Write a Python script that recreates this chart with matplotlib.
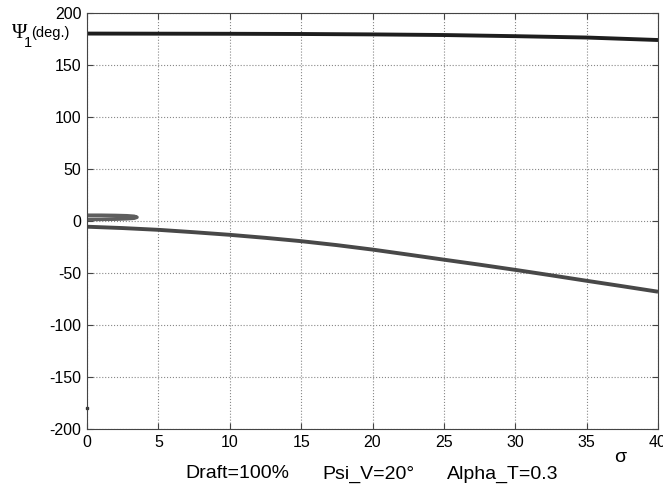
import matplotlib
matplotlib.use("Agg")
import matplotlib.pyplot as plt
import numpy as np

plt.rcParams['font.family'] = ['Liberation Sans', 'DejaVu Sans']
plt.rcParams['axes.unicode_minus'] = False

# upper branch (near 180 deg)
sig_up = [0, 5, 10, 15, 20, 25, 30, 35, 40]
psi_up = [180.2, 180.1, 180, 179.8, 179.4, 178.8, 177.7, 176.4, 174]

# lower branch
sig_lo = [0, 2.5, 5, 7.5, 10, 12.5, 15, 17.5, 20, 22.5, 25, 27.5, 30,
          32.5, 35, 37.5, 40]
psi_lo = [-5.5, -6.8, -8.5, -10.8, -13.3, -16.2, -19.4, -23.2, -27.5,
          -32.3, -37.2, -42, -47, -52.2, -57.5, -62.7, -68]

# small loop near sigma = 0
sig_loop = [0, 1, 2, 2.8, 3.3, 3.5, 3.3, 2.8, 2, 1, 0]
psi_loop = [5.5, 5.5, 5.3, 5.0, 4.5, 3.6, 2.7, 2.2, 1.8, 1.6, 1.5]

# isolated point
sig_pt = [0]
psi_pt = [-180]

fig = plt.figure(figsize=(6.63, 4.88), dpi=100)
ax = fig.add_axes([0.1312, 0.1209, 0.8613, 0.8525])

ax.plot(sig_up, psi_up, color='#1e1e1e', lw=2.8, solid_capstyle='butt')
ax.plot(sig_lo, psi_lo, color='#484848', lw=2.8, solid_capstyle='butt')
ax.plot(sig_loop, psi_loop, color='#5e5e5e', lw=2.6, solid_capstyle='butt')
ax.plot(sig_pt, psi_pt, 's', color='#333333', ms=2, clip_on=False)

ax.set_xlim(0, 40)
ax.set_ylim(-200, 200)
ax.set_xticks(np.arange(0, 41, 5))
ax.set_yticks(np.arange(-200, 201, 50))
ax.grid(True, linestyle=':', color='#888888', lw=0.8)
ax.tick_params(direction='in', top=True, right=True, labelsize=11.5,
               length=4, color='#444444', pad=4)
for s in ax.spines.values():
    s.set_color('#444444')
    s.set_linewidth(0.8)

# y label: Psi_1 (deg.)
W, H = 663.0, 488.0
fig.text(12 / W, 1 - 34 / H, 'Ψ', fontsize=15, family='Liberation Serif',
         ha='left', va='center')
fig.text(24 / W, 1 - 43 / H, '1', fontsize=10.5, ha='left', va='center')
fig.text(31 / W, 1 - 33 / H, '(deg.)', fontsize=10.5, ha='left', va='center')

fig.text(620 / W, 1 - 457 / H, 'σ', fontsize=14, ha='center', va='center')
fig.text(185 / W, 1 - 474 / H, 'Draft=100%', fontsize=14, ha='left', va='center')
fig.text(322 / W, 1 - 474 / H, 'Psi_V=20°', fontsize=14, ha='left', va='center')
fig.text(447 / W, 1 - 474 / H, 'Alpha_T=0.3', fontsize=14, ha='left', va='center')

fig.savefig('out.png', dpi=100)
